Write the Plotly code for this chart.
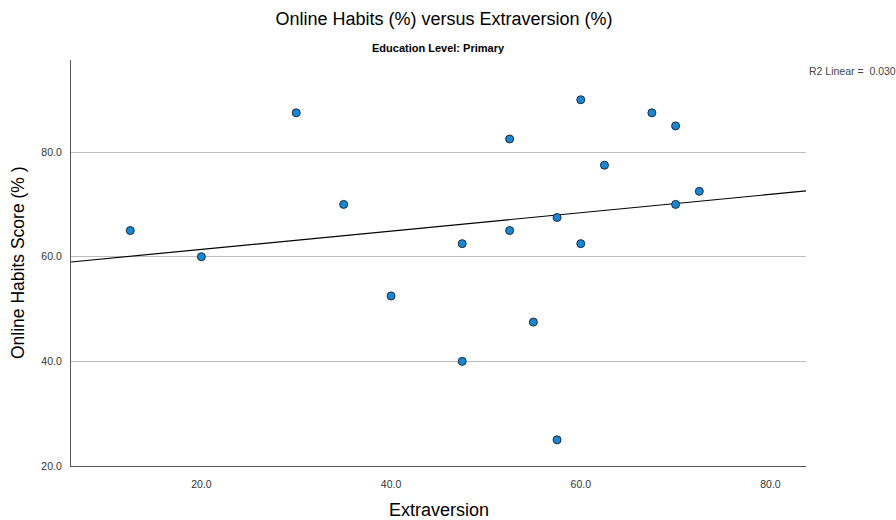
import numpy as np
import plotly.graph_objects as go

# Extraversion (%) and Online Habits Score (%) for the Primary education group
extraversion = [12.5, 20.0, 30.0, 35.0, 40.0, 47.5, 47.5, 52.5, 52.5, 55.0,
                57.5, 57.5, 60.0, 60.0, 62.5, 67.5, 70.0, 70.0, 72.5]
online_habits = [65.0, 60.0, 87.5, 70.0, 52.5, 62.5, 40.0, 82.5, 65.0, 47.5,
                 67.5, 25.0, 90.0, 62.5, 77.5, 87.5, 85.0, 70.0, 72.5]

y_ticks = [20, 40, 60, 80]
x_ticks = [20, 40, 60, 80]
r2_text = "R2 Linear =  0.030"

X_RANGE = [6.25, 83.75]
Y_RANGE = [20, 97.6]

W, H = 896, 520
L, R, T, B = 71, 90, 60, 54
PW, PH = W - L - R, H - T - B

# least-squares line across the full x range
slope, intercept = np.polyfit(extraversion, online_habits, 1)
fit_x = np.array(X_RANGE)
fit_y = slope * fit_x + intercept

fig = go.Figure()
fig.add_trace(go.Scatter(
    x=fit_x, y=fit_y, mode="lines",
    line=dict(color="#000000", width=1.2),
    hoverinfo="skip", showlegend=False,
))
fig.add_trace(go.Scatter(
    x=extraversion, y=online_habits, mode="markers",
    marker=dict(size=8, color="#1788d8", line=dict(color="#1b2a3a", width=1)),
    showlegend=False,
))

font_main = "Liberation Sans, Arial, sans-serif"
font_tick = "Liberation Sans Narrow, Liberation Sans, Arial, sans-serif"


def px_x(p):
    return (p - L) / PW


def px_y(p):
    return 1 - (p - T) / PH


fig.update_layout(
    width=W, height=H,
    margin=dict(l=L, r=R, t=T, b=B),
    paper_bgcolor="white", plot_bgcolor="white",
    font=dict(family=font_main, color="#000000"),
    title=dict(
        text="Online Habits (%) versus Extraversion (%)",
        font=dict(size=18, family=font_main, color="#000000"),
        x=444 / W, xanchor="center", y=1 - 19 / H, yanchor="middle",
    ),
    annotations=[
        dict(text="<b>Education Level: Primary</b>", xref="paper", yref="paper",
             x=px_x(438), y=px_y(48), xanchor="center", yanchor="middle",
             showarrow=False, font=dict(size=11, family=font_tick, color="#000000")),
        dict(text=r2_text, xref="paper", yref="paper",
             x=px_x(807), y=px_y(71), xanchor="left", yanchor="middle",
             showarrow=False, font=dict(size=10.5, family=font_tick, color="#444444")),
        dict(text="Extraversion", xref="paper", yref="paper",
             x=px_x(439), y=px_y(510), xanchor="center", yanchor="middle",
             showarrow=False, font=dict(size=18, family=font_main, color="#000000")),
        dict(text="Online Habits Score (% )", xref="paper", yref="paper",
             x=px_x(18), y=px_y(263), xanchor="center", yanchor="middle",
             textangle=-90, showarrow=False,
             font=dict(size=17.5, family=font_main, color="#000000")),
    ],
    xaxis=dict(
        range=X_RANGE, tickvals=x_ticks, ticktext=[f"{v:.1f}" for v in x_ticks],
        showgrid=False, zeroline=False, automargin=False,
        showline=True, linecolor="#555555", linewidth=1.2,
        ticks="", ticklabelstandoff=8,
        tickfont=dict(size=10.5, family=font_tick, color="#333333"),
    ),
    yaxis=dict(
        range=Y_RANGE, tickvals=y_ticks, ticktext=[f"{v:.1f}" for v in y_ticks],
        showgrid=True, gridcolor="#bdbdbd", gridwidth=1.2, zeroline=False,
        automargin=False,
        showline=True, linecolor="#555555", linewidth=1.2,
        ticks="", ticklabelstandoff=6,
        tickfont=dict(size=10.5, family=font_tick, color="#333333"),
    ),
)

fig.write_html("out.html")
